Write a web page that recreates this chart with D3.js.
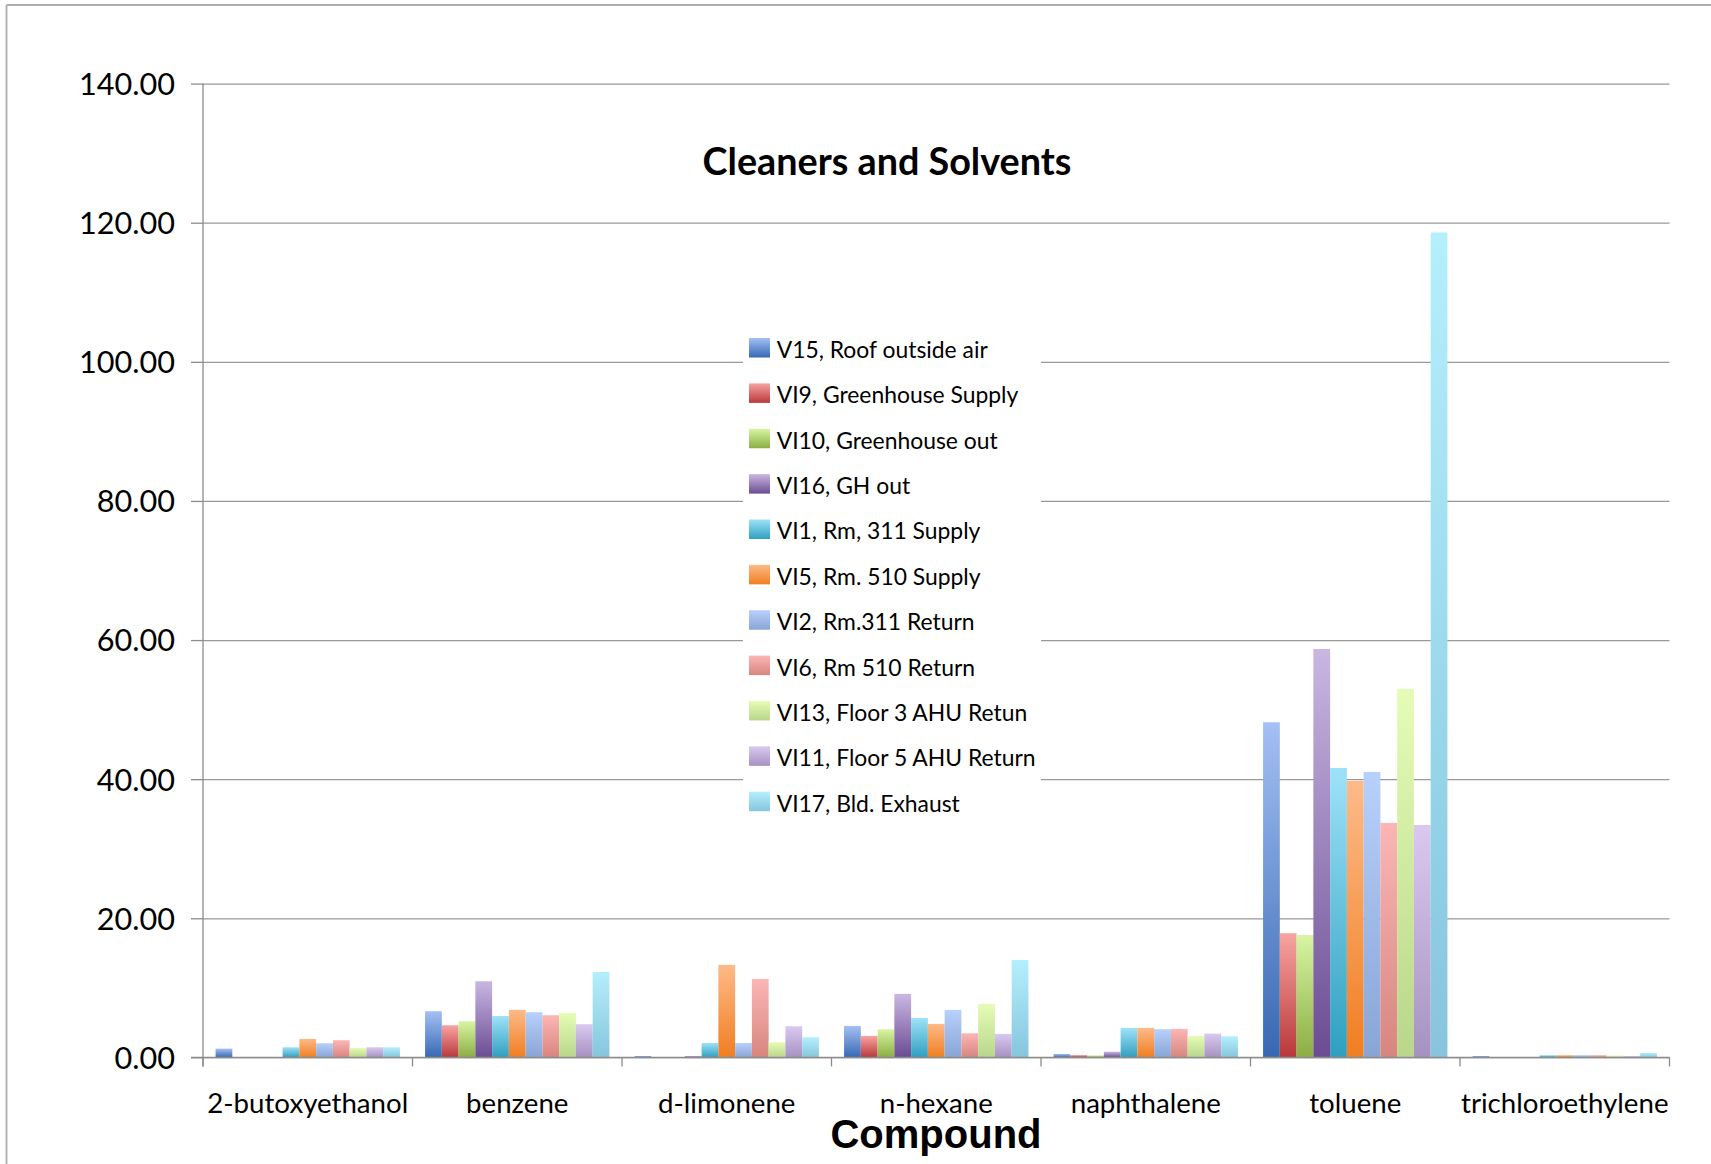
<!DOCTYPE html>
<html>
<head>
<meta charset="utf-8">
<script src="https://cdn.jsdelivr.net/npm/d3@7"></script>
<style>
  html, body { margin: 0; padding: 0; background: #fff; }
  svg { display: block; }
</style>
</head>
<body>
<svg id="chart" width="1711" height="1164"></svg>
<script>
// ---------------- DATA ----------------
const categories = ["2-butoxyethanol", "benzene", "d-limonene", "n-hexane", "naphthalene", "toluene", "trichloroethylene"];
const seriesNames = [
  "V15, Roof outside air",
  "VI9, Greenhouse Supply",
  "VI10, Greenhouse out",
  "VI16, GH out",
  "VI1, Rm, 311 Supply",
  "VI5, Rm. 510 Supply",
  "VI2, Rm.311 Return",
  "VI6, Rm 510 Return",
  "VI13, Floor 3 AHU Retun",
  "VI11, Floor 5 AHU Return",
  "VI17, Bld. Exhaust"
];
const v15  = [1.26, 6.64, 0.20, 4.53, 0.50, 48.18, 0.20];
const vi9  = [0.00, 4.62, 0.00, 3.09, 0.33, 17.85, 0.00];
const vi10 = [0.00, 5.20, 0.00, 4.05, 0.30, 17.61, 0.00];
const vi16 = [0.00, 10.95, 0.20, 9.13, 0.82, 58.72, 0.00];
const vi1  = [1.46, 5.96, 2.08, 5.68, 4.24, 41.61, 0.32];
const vi5  = [2.66, 6.83, 13.30, 4.82, 4.24, 39.74, 0.32];
const vi2  = [2.04, 6.49, 2.08, 6.83, 4.05, 41.04, 0.32];
const vi6  = [2.47, 6.06, 11.28, 3.47, 4.10, 33.71, 0.32];
const vi13 = [1.37, 6.40, 2.18, 7.69, 3.09, 52.97, 0.28];
const vi11 = [1.46, 4.77, 4.48, 3.38, 3.42, 33.42, 0.18];
const vi17 = [1.46, 12.29, 2.90, 14.01, 3.04, 118.60, 0.65];
const seriesValues = [v15, vi9, vi10, vi16, vi1, vi5, vi2, vi6, vi13, vi11, vi17];
const yTicks = [0, 20, 40, 60, 80, 100, 120, 140];
const chartTitle = "Cleaners and Solvents";
const xAxisTitle = "Compound";

// gradient colours (top, bottom) per series
const colorTop    = ["#a4c0f4", "#f8a4a2", "#d8f5a3", "#c9b7e2", "#9ee2f9", "#fdba88", "#b8d0fc", "#fbb6b5", "#e5fcb6", "#d9c9f0", "#b4effc"];
const colorBottom = ["#3768b3", "#b9383a", "#8aae42", "#6b4c93", "#2f9fbf", "#f07e21", "#88a5d5", "#d8857f", "#b9d68b", "#a692c1", "#86c5dd"];

// ---------------- LAYOUT ----------------
const svg = d3.select("#chart");
const plotLeft = 203, plotRight = 1669.5, plotTop = 83.6, plotBottom = 1057.4;

const x0 = d3.scaleBand().domain(categories).range([plotLeft, plotRight]).paddingInner(0).paddingOuter(0);
const x1 = d3.scaleBand().domain(d3.range(seriesNames.length)).range([0, x0.bandwidth()]).paddingInner(0).paddingOuter(0.75);
const y = d3.scaleLinear().domain([0, 140]).range([plotBottom, plotTop]);

function fit(text, family, weight, target) {
  const t = svg.append("text").attr("font-family", family).attr("font-weight", weight)
    .attr("font-size", 100).text(text);
  const w = t.node().getComputedTextLength();
  t.remove();
  return 100 * target / w;
}
const FONT = "Lato, 'Open Sans', sans-serif";
const tickSize = fit("140.00", FONT, 400, 96);
const catSize = fit("2-butoxyethanol", FONT, 400, 201);
const legSize = fit("VI11, Floor 5 AHU Return", FONT, 400, 259);
const titleSize = fit(chartTitle, FONT, 700, 369);

// gradients
const defs = svg.append("defs");
seriesNames.forEach((s, i) => {
  const g = defs.append("linearGradient").attr("id", "grad" + i)
    .attr("x1", 0).attr("y1", 0).attr("x2", 0).attr("y2", 1);
  g.append("stop").attr("offset", "0%").attr("stop-color", colorTop[i]);
  g.append("stop").attr("offset", "100%").attr("stop-color", colorBottom[i]);
});

// outer chart border (top and left edges visible)
svg.append("line").attr("x1", 6.5).attr("x2", 1711).attr("y1", 5).attr("y2", 5)
  .attr("stroke", "#adadad").attr("stroke-width", 1.8);
svg.append("line").attr("x1", 6.5).attr("x2", 6.5).attr("y1", 5).attr("y2", 1164)
  .attr("stroke", "#adadad").attr("stroke-width", 1.8);

// gridlines
const grid = svg.append("g").attr("transform", `translate(${plotLeft},0)`)
  .call(d3.axisLeft(y).tickValues(yTicks).tickSize(-(plotRight - plotLeft)).tickFormat(""));
grid.select(".domain").remove();
grid.selectAll(".tick line").attr("stroke", "#999").attr("stroke-width", 1.3);

// y axis with labels
const yAxis = svg.append("g").attr("transform", `translate(${plotLeft},0)`)
  .call(d3.axisLeft(y).tickValues(yTicks).tickSize(12).tickPadding(16).tickFormat(d3.format(".2f")));
yAxis.select(".domain").remove();
yAxis.selectAll(".tick line").attr("stroke", "#8c8c8c").attr("stroke-width", 1.3);
yAxis.selectAll(".tick text").attr("font-family", FONT).attr("font-size", tickSize)
  .attr("fill", "#000").attr("dy", "0.355em");

// y axis line
svg.append("line").attr("x1", plotLeft).attr("x2", plotLeft).attr("y1", y(140)).attr("y2", plotBottom + 9)
  .attr("stroke", "#8c8c8c").attr("stroke-width", 1.3);

// bars
const groups = svg.append("g").selectAll("g").data(categories).join("g")
  .attr("transform", d => `translate(${x0(d)},0)`);
groups.selectAll("rect")
  .data((c, ci) => seriesValues.map((vals, si) => ({ si, v: vals[ci] })))
  .join("rect")
  .attr("x", d => x1(d.si))
  .attr("width", x1.bandwidth())
  .attr("y", d => y(d.v))
  .attr("height", d => y(0) - y(d.v))
  .attr("fill", d => `url(#grad${d.si})`);

// x axis
const xAxis = svg.append("g").attr("transform", `translate(0,${plotBottom})`)
  .call(d3.axisBottom(x0).tickSize(0).tickPadding(0));
xAxis.select(".domain").remove();
xAxis.selectAll(".tick text").attr("font-family", FONT).attr("font-size", catSize)
  .attr("fill", "#000").attr("dy", null).attr("y", 56);
svg.append("line").attr("x1", plotLeft - 12).attr("x2", plotRight).attr("y1", plotBottom).attr("y2", plotBottom)
  .attr("stroke", "#8c8c8c").attr("stroke-width", 1.3);
// category boundary ticks
svg.append("g").selectAll("line")
  .data(categories.map(c => x0(c)).concat([x0.range()[1]]))
  .join("line")
  .attr("x1", d => d).attr("x2", d => d)
  .attr("y1", plotBottom).attr("y2", plotBottom + 9)
  .attr("stroke", "#8c8c8c").attr("stroke-width", 1.3);

// legend
const legX = 743, legY = 327, legW = 298, legH = 499, legStep = 45.37;
const legend = svg.append("g");
legend.append("rect").attr("x", legX).attr("y", legY).attr("width", legW).attr("height", legH).attr("fill", "#fff");
const li = legend.selectAll("g.item").data(seriesNames).join("g").attr("class", "item")
  .attr("transform", (d, i) => `translate(${legX + 6},${338 + i * legStep})`);
li.append("rect").attr("width", 21).attr("height", 19.5).attr("fill", (d, i) => `url(#grad${i})`);
li.append("text").attr("x", 27.7).attr("y", 20).attr("font-family", FONT).attr("font-size", legSize)
  .attr("fill", "#000").text(d => d);

// title
svg.append("text").attr("x", 887).attr("y", 175).attr("text-anchor", "middle")
  .attr("font-family", FONT).attr("font-weight", 700).attr("font-size", titleSize)
  .attr("fill", "#000").text(chartTitle);

// x axis title
svg.append("text").attr("x", 936).attr("y", 1148).attr("text-anchor", "middle")
  .attr("font-family", "'Liberation Sans', Arial, sans-serif").attr("font-weight", 700).attr("font-size", 40)
  .attr("fill", "#000").text(xAxisTitle);
</script>
</body>
</html>
